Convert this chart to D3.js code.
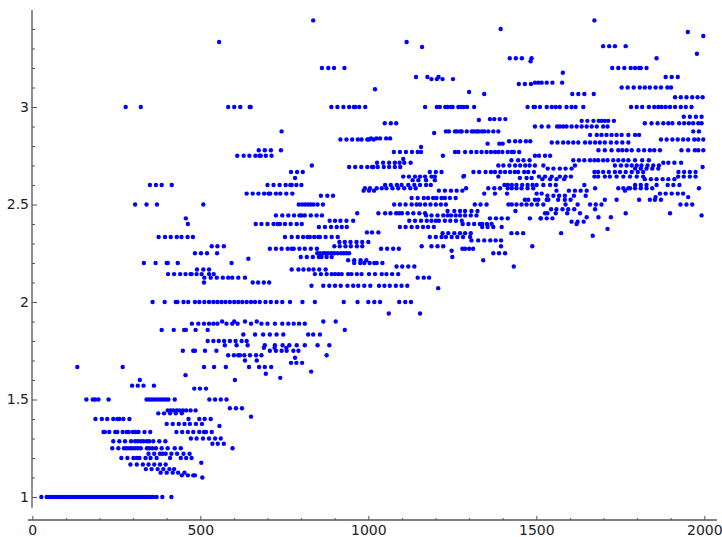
<!DOCTYPE html>
<html>
<head>
<meta charset="utf-8">
<script src="https://cdn.jsdelivr.net/npm/d3@7"></script>
<style>
  body { margin: 0; background: #fff; }
  text { font-family: "DejaVu Sans", sans-serif; }
</style>
</head>
<body>
<div id="container"></div>
<script>
let w = 722;
let h = 537;

// each row: [y value, [x values]]
let rowsLow = [
  [1, [27, 43, 51, 59, 67, 75, 83, 91, 98, 106, 114, 122, 130, 138, 146, 154, 162, 170, 178, 186, 194, 202, 210, 217, 225, 233, 241, 249, 257, 265, 273, 281, 289, 297, 305, 313, 321, 329, 337, 344, 352, 360, 370, 387, 414]],
  [1.1, [506]],
  [1.111, [445, 463, 479, 484]],
  [1.125, [382, 400, 418, 434, 453]],
  [1.143, [338, 355, 373, 390, 408, 422]],
  [1.167, [292, 311, 329, 346, 363, 380, 397]],
  [1.176, [503]],
  [1.2, [265, 283, 301, 311, 319, 337, 352, 370, 410, 442, 458, 474]],
  [1.222, [346, 363, 380, 388, 397, 414, 431, 450, 468]],
  [1.25, [238, 256, 273, 281, 290, 297, 306, 314, 323, 341, 348, 357, 368, 385, 403, 424, 442, 596]],
  [1.273, [536, 552, 570]],
  [1.286, [241, 259, 276, 294, 306, 314, 323, 331, 341, 348, 360, 378, 396]],
  [1.3, [472, 489, 508, 526, 544, 561]],
  [1.333, [212, 216, 229, 247, 253, 269, 281, 287, 299, 307, 316, 334, 351, 429, 446, 463, 479, 497, 511, 517, 534]],
  [1.364, [557]],
  [1.375, [400, 418, 436, 453, 469, 487, 505]],
  [1.4, [188, 207, 223, 241, 253, 259, 271, 289, 465, 497, 513, 531]],
  [1.412, [651]],
  [1.429, [375, 392, 410, 427, 445]],
  [1.444, [403, 412, 420, 430, 438, 448, 458, 471, 486]],
  [1.455, [588, 606, 624]],
  [1.5, [161, 180, 187, 197, 227, 340, 348, 356, 365, 373, 381, 389, 397, 405, 424, 527, 544, 561, 578]],
  [1.556, [482, 499, 517]],
  [1.571, [297, 314, 331, 362]],
  [1.6, [320, 603]],
  [1.611, [738]],
  [1.625, [456]],
  [1.632, [695]],
  [1.643, [830]],
  [1.667, [134, 269, 511, 541, 576, 645, 675, 692, 711]],
  [1.688, [770, 786, 803]],
  [1.7, [633, 668]],
  [1.714, [782]],
  [1.727, [583, 600, 613, 618, 631, 648, 666, 682, 876]],
  [1.75, [448, 479, 484, 514, 548, 707, 725, 742, 757, 777, 792]],
  [1.765, [689, 721, 756]],
  [1.778, [573, 608, 641, 692, 722, 745, 765, 787, 811, 849, 884]],
  [1.8, [522, 539, 555, 571, 588, 605, 623, 638]],
  [1.833, [628, 663, 687, 707, 727, 747, 821, 836, 856]],
  [1.857, [385, 421, 452, 457, 486, 522, 930]],
  [1.889, [475, 494, 511, 526, 539, 551, 578, 595, 611, 651, 682, 700, 722, 744, 762, 778, 794, 811]],
  [1.9, [565, 601, 633, 668, 866, 903]]
];

let rowsMid = [
  [2.0, [358, 394, 427, 432, 450, 464, 484, 497, 512, 526, 539, 551, 563, 575, 588, 601, 613, 625, 638, 651, 663, 677, 694, 710, 727, 744, 767, 804, 841, 927, 968, 1000]],
  [2.083, [831, 866, 884, 901, 918, 938, 955, 970, 988, 1006]],
  [2.1, [511, 656, 672, 689, 705]],
  [2.125, [512, 531, 549, 567, 583, 595, 613, 633]],
  [2.143, [404, 422, 440, 456, 471, 474, 489, 504, 526, 540, 841, 859, 876, 891, 901, 911, 921, 940, 950, 966, 980, 1002]],
  [2.167, [490, 509, 526, 772, 792, 807, 823, 837, 854, 873]],
  [2.2, [332, 367, 400, 403, 433, 593, 958, 976, 988, 1004, 1018]],
  [2.214, [940, 958, 977, 994]],
  [2.222, [643]],
  [2.231, [799, 817, 835, 853, 861, 876, 891]],
  [2.25, [484, 502, 520, 550, 848, 856, 866, 873, 881, 891, 899, 909, 919, 927, 935, 943]],
  [2.273, [707, 725, 742, 760, 772, 778, 795, 811, 829, 847]],
  [2.286, [534, 551, 570, 899, 915, 932, 948, 966, 982]],
  [2.308, [914, 930, 947, 965, 982, 1000]],
  [2.333, [376, 395, 412, 430, 444, 462, 478, 752, 772, 790, 806, 819, 826, 839, 851, 856, 873, 891, 909]],
  [2.357, [996, 1011]],
  [2.385, [853, 871, 889, 906, 921, 936]],
  [2.4, [463, 665, 682, 700, 718, 730, 737, 752, 769, 787, 802]],
  [2.417, [885, 901, 917, 935, 955]],
  [2.429, [457]],
  [2.444, [725, 744, 762, 779, 795, 801, 811, 829, 846, 862]],
  [2.455, [967]],
  [2.5, [306, 340, 371, 509, 793, 803, 812, 821, 829, 837, 849, 865]],
  [2.545, [859, 878, 895]],
  [2.556, [638, 656, 673, 690, 703, 708, 725, 738, 756, 774]],
  [2.571, [986, 1002, 1017]],
  [2.6, [350, 368, 385, 415, 700, 718, 736, 754, 768, 772, 786, 801]],
  [2.636, [782]],
  [2.667, [770, 788, 805]],
  [2.692, [943, 961, 979, 997, 1011, 1015]],
  [2.7, [832]],
  [2.75, [610, 629, 646, 664, 676, 680, 695, 712]],
  [2.778, [674, 692, 710, 740]],
  [2.833, [917, 935, 952, 969, 980, 997, 1002, 1016]],
  [2.875, [742]],
  [3.0, [278, 323, 583, 601, 619, 647, 650, 890, 908, 926, 943, 957, 961, 973, 991]],
  [3.091, [1020]],
  [3.2, [862, 881, 898, 929]],
  [3.333, [556]],
  [3.444, [836]]
];

let rowsHigh = [
  [1.941, [1061, 1154]],
  [2.0, [1018, 1035, 1092, 1110, 1127]],
  [2.071, [1208]],
  [2.083, [1032, 1048, 1064, 1082, 1099, 1116]],
  [2.125, [1147, 1165, 1181]],
  [2.143, [1020, 1040, 1054, 1071, 1089]],
  [2.182, [1084, 1101, 1119, 1137, 1433]],
  [2.2, [1025, 1042]],
  [2.214, [1342]],
  [2.231, [1250]],
  [2.25, [1372, 1389, 1407]],
  [2.263, [1248]],
  [2.273, [1038, 1056, 1074, 1091, 1280, 1288, 1300, 1312]],
  [2.286, [1159, 1188, 1206, 1223, 1395, 1488]],
  [2.316, [1307, 1327, 1345, 1363, 1379, 1395]],
  [2.333, [1183, 1201, 1218, 1231, 1248, 1265, 1282, 1303]],
  [2.353, [1221, 1238, 1256, 1273, 1288, 1305, 1426, 1443, 1461]],
  [2.357, [1030]],
  [2.385, [1094, 1111, 1129, 1146, 1163, 1178, 1195, 1339, 1355, 1372, 1397]],
  [2.4, [1281, 1298, 1315, 1332, 1339, 1353, 1367]],
  [2.417, [1122, 1139, 1157, 1174, 1188, 1201, 1210, 1228, 1244, 1261, 1278]],
  [2.429, [1362, 1380, 1397, 1415, 1481, 1513]],
  [2.444, [1172, 1188, 1206, 1223, 1236, 1246, 1260, 1273, 1288, 1305, 1322]],
  [2.455, [1030, 1050, 1066, 1083, 1092, 1100, 1117, 1134, 1152, 1169]],
  [2.467, [1236, 1256, 1273, 1288, 1307, 1325, 1438]],
  [2.5, [1077, 1094, 1111, 1129, 1144, 1154, 1169, 1185, 1201, 1216, 1231, 1317, 1334, 1352, 1417, 1427, 1441, 1456, 1471, 1486]],
  [2.524, [1466, 1476]],
  [2.533, [1129, 1147, 1165, 1178, 1193, 1203, 1218, 1228, 1243, 1260]],
  [2.556, [1345, 1377, 1413]],
  [2.571, [1210, 1228, 1246, 1263, 1280]],
  [2.583, [990, 1005, 1025, 1040, 1054, 1072, 1089, 1107, 1125, 1141, 1291, 1357, 1375, 1392, 1415, 1427, 1441, 1456, 1474, 1491]],
  [2.6, [1050, 1067, 1085, 1099, 1119, 1137, 1154, 1172, 1186, 1405, 1415, 1427, 1441, 1458, 1474, 1489]],
  [2.625, [1132, 1149, 1172, 1198]],
  [2.636, [1451, 1471, 1486]],
  [2.643, [1104, 1121, 1139, 1154, 1169, 1188, 1198, 1283, 1387]],
  [2.647, [1285]],
  [2.667, [1183, 1201, 1218, 1313, 1330, 1349, 1365, 1377, 1393, 1407, 1422, 1436, 1446, 1464, 1476, 1493]],
  [2.692, [1028, 1046, 1062, 1079, 1095]],
  [2.7, [1387, 1402, 1420, 1437, 1452, 1467, 1480]],
  [2.714, [1026, 1044, 1062, 1079, 1093, 1107, 1126]],
  [2.727, [1426, 1446, 1462, 1480]],
  [2.733, [1104]],
  [2.75, [1222]],
  [2.769, [1076, 1094, 1112, 1130, 1147, 1157, 1258, 1268, 1288, 1306, 1322, 1337, 1352, 1365, 1377, 1387, 1399, 1415, 1427, 1433, 1449]],
  [2.795, [1157]],
  [2.812, [1355, 1390, 1400]],
  [2.824, [1419, 1437, 1452, 1469, 1482]],
  [2.839, [1008, 1024, 1035, 1053, 1065]],
  [2.867, [1196]],
  [2.875, [1231, 1240, 1258, 1264, 1274, 1278, 1293, 1308, 1315, 1323, 1328, 1338, 1345, 1357, 1372, 1387]],
  [2.917, [1049, 1067, 1083]],
  [2.933, [1329]],
  [2.938, [1362, 1375, 1391, 1408]],
  [3.0, [1169, 1204, 1213, 1229, 1236, 1246, 1251, 1268, 1276, 1284, 1294, 1315, 1474, 1492]],
  [3.067, [1345]],
  [3.077, [1300]],
  [3.118, [1448, 1466, 1484]],
  [3.143, [1188, 1204, 1221, 1252]],
  [3.154, [1142, 1176, 1209]],
  [3.235, [1483]],
  [3.25, [1421, 1439, 1457, 1486]],
  [3.308, [1160]],
  [3.333, [1114]],
  [3.4, [1394]]
];

let rowsTop = [
  [2.34, [1668]],
  [2.353, [1574]],
  [2.375, [1712]],
  [2.4, [1620]],
  [2.412, [1605, 1623, 1641]],
  [2.429, [1513, 1531, 1548]],
  [2.435, [1650, 1685, 1722]],
  [2.444, [1992]],
  [2.455, [1526, 1533, 1558, 1592, 1630, 1766, 1898]],
  [2.476, [1544, 1560, 1578, 1595, 1613, 1675]],
  [2.5, [1503, 1521, 1587, 1623, 1660, 1677, 1694, 1929, 1947, 1964]],
  [2.524, [1496, 1506, 1531, 1536, 1565, 1585, 1602, 1704, 1739, 1806, 1838, 1853, 1871]],
  [2.538, [1855, 1952]],
  [2.545, [1533, 1551, 1568, 1585, 1612, 1647]],
  [2.556, [1501, 1516, 1868, 1885, 1903, 1921, 1937]],
  [2.571, [1560, 1597, 1615, 1632, 1650, 1764]],
  [2.583, [1675, 1744, 1759, 1774, 1779, 1794, 1811, 1828, 1845, 1984]],
  [2.6, [1501, 1521, 1541, 1558, 1643, 1794, 1811, 1828, 1858, 1891, 1908, 1926]],
  [2.63, [1518, 1541, 1560, 1583, 1823, 1841, 1858, 1876, 1893, 1911]],
  [2.643, [1508, 1526, 1546, 1570, 1587, 1603, 1673, 1684, 1704, 1719, 1739, 1759, 1779, 1799, 1818, 1922, 1939, 1957, 1974]],
  [2.667, [1673, 1684, 1699, 1716, 1734, 1749, 1766, 1784, 1802, 1818, 1923, 1940, 1957, 1974]],
  [2.684, [1534, 1551, 1570, 1587, 1605, 1794, 1811, 1828, 1845, 1863]],
  [2.692, [1995]],
  [2.7, [1496, 1521, 1615, 1734, 1752, 1769, 1784, 1799, 1813, 1831, 1848, 1865]],
  [2.714, [1878, 1893, 1911, 1931]],
  [2.727, [1610, 1627, 1643, 1660, 1673, 1684, 1699, 1712, 1729, 1744, 1759, 1774, 1794, 1815, 1835]],
  [2.75, [1496, 1508, 1526, 1541]],
  [2.778, [1685, 1704, 1724, 1744, 1756, 1769, 1784, 1804, 1821, 1838, 1851, 1868, 1932, 1952, 1972, 1982, 1997]],
  [2.818, [1546, 1563, 1580, 1595, 1610, 1625, 1645, 1660, 1675, 1689, 1704, 1722, 1739, 1756, 1774]],
  [2.833, [1871, 1888, 1905, 1921, 1937, 1952, 1970, 1982, 1997]],
  [2.857, [1660, 1680, 1694, 1709, 1724, 1739, 1754, 1774, 1794, 1806]],
  [2.875, [1967, 1984]],
  [2.9, [1496, 1516, 1536, 1562, 1570, 1580, 1590, 1605, 1620, 1635, 1650, 1665, 1680, 1699, 1712]],
  [2.917, [1823, 1843, 1861, 1878, 1893, 1905, 1925, 1940, 1954, 1967, 1982, 1992]],
  [2.929, [1635, 1652, 1670, 1686, 1694, 1704, 1714, 1731]],
  [2.95, [1939, 1957, 1975, 1992]],
  [3.0, [1496, 1511, 1531, 1546, 1558, 1570, 1590, 1605, 1617, 1640, 1782, 1799, 1815, 1835, 1851, 1863, 1873, 1885, 1898, 1913, 1930, 1945, 1962]],
  [3.05, [1913, 1930, 1947, 1964, 1980, 1995]],
  [3.067, [1607, 1625, 1643, 1671]],
  [3.1, [1754, 1772, 1790, 1808, 1823, 1838, 1855, 1871, 1890, 1901]],
  [3.125, [1496, 1506, 1516, 1531, 1548, 1577]],
  [3.154, [1885, 1903, 1921]],
  [3.176, [1579]],
  [3.2, [1726, 1744, 1762, 1781, 1794, 1806, 1811, 1828]],
  [3.25, [1858]],
  [3.273, [1978]],
  [3.312, [1699, 1717, 1734, 1766]],
  [3.364, [1997]],
  [3.385, [1951]],
  [3.444, [1673]]
];

let xMajor = [0, 500, 1000, 1500, 2000];
let xMinor = [100, 200, 300, 400, 600, 700, 800, 900, 1100, 1200, 1300, 1400, 1600, 1700, 1800, 1900];
let yMajor = [1, 1.5, 2, 2.5, 3];
let yMinor = [1.1, 1.2, 1.3, 1.4, 1.6, 1.7, 1.8, 1.9, 2.1, 2.2, 2.3, 2.4, 2.6, 2.7, 2.8, 2.9, 3.1, 3.2, 3.3, 3.4];

let x = d3.scaleLinear().domain([0, 2000]).range([32.3, 704.3]);
let y = d3.scaleLinear().domain([1, 3]).range([497, 107]);

let viz = d3.select("#container")
  .append("svg")
    .attr("width", w)
    .attr("height", h)
    .style("background-color", "white");

let points = [];
[rowsLow, rowsMid, rowsHigh, rowsTop].forEach(function(rows){
  rows.forEach(function(r){
    r[1].forEach(function(v){ points.push([v, r[0]]); });
  });
});

viz.selectAll("circle.pt")
  .data(points)
  .enter()
  .append("circle")
    .attr("class", "pt")
    .attr("cx", d => x(d[0]))
    .attr("cy", d => y(d[1]))
    .attr("r", 2.2)
    .attr("fill", "#0000ff");

// axes (sage style: ticks point inwards, lines don't meet)
let axisColor = "#555";

viz.append("line")
  .attr("x1", x(-13)).attr("x2", x(2038))
  .attr("y1", 520).attr("y2", 520)
  .attr("stroke", axisColor).attr("stroke-width", 1.3);

viz.append("line")
  .attr("x1", 32).attr("x2", 32)
  .attr("y1", y(3.497)).attr("y2", y(0.945))
  .attr("stroke", axisColor).attr("stroke-width", 1.3);

let gx = viz.append("g").attr("transform", "translate(0,520)")
  .call(d3.axisBottom(x).tickValues(xMajor).tickSizeInner(-4).tickSizeOuter(0)
    .tickPadding(5).tickFormat(d => String(d)));
let gxm = viz.append("g").attr("transform", "translate(0,520)")
  .call(d3.axisBottom(x).tickValues(xMinor).tickSizeInner(-2).tickSizeOuter(0).tickFormat(""));

let gy = viz.append("g").attr("transform", "translate(32,0)")
  .call(d3.axisLeft(y).tickValues(yMajor).tickSizeInner(-5).tickSizeOuter(0)
    .tickPadding(3).tickFormat(d => String(d)));
let gym = viz.append("g").attr("transform", "translate(32,0)")
  .call(d3.axisLeft(y).tickValues(yMinor).tickSizeInner(-3).tickSizeOuter(0).tickFormat(""));

[gx, gxm, gy, gym].forEach(function(g){
  g.select(".domain").remove();
  g.selectAll(".tick line").attr("stroke", axisColor).attr("stroke-width", 1);
  g.selectAll(".tick text")
    .attr("fill", "#222")
    .style("font-family", "'DejaVu Sans', sans-serif")
    .style("font-size", "14px");
});
</script>
</body>
</html>
